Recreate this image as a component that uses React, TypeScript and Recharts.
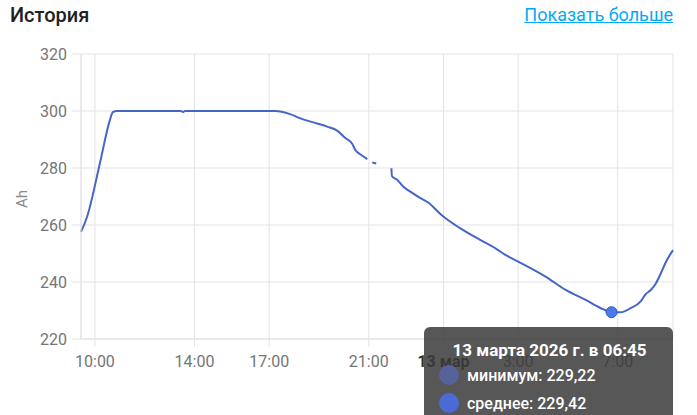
import { CartesianGrid, Line, LineChart, Tooltip, XAxis, YAxis } from "recharts";

const LINE = "#4466c8";
const GRID = "#e3e3e3";
const MUTED = "#757575";

// hours since 00:00 on 12 March
const TIMES = [
  9.44, 9.56, 9.68, 10.2, 10.6, 10.72, 10.88, 12.0, 13.45, 13.54, 13.62, 15.5, 17.0, 17.24, 17.84,
  18.25, 18.77, 19.33, 19.73, 20.06, 20.34, 20.46, 20.66, 20.94, 21.0, 21.14, 21.3, 21.6, 21.91,
  21.93, 22.15, 22.39, 22.67, 22.99, 23.4, 23.92, 24.68, 25.49, 26.09, 26.49, 27.02, 28.1, 28.91,
  29.71, 30.32, 30.75, 31.12, 31.52, 31.93, 32.12, 32.33, 32.53, 32.73, 32.94, 33.22,
];
const MEAN: (number | null)[] = [
  257.6, 260.0, 262.8, 281.7, 296.8, 299.6, 300.0, 300.0, 300.0, 299.6, 300.0, 300.0, 300.0, 300.0,
  298.9, 297.4, 296.0, 294.5, 293.1, 290.5, 288.4, 286.3, 284.8, 283.1, null, 281.9, 281.6, null,
  279.9, 277.2, 275.8, 273.4, 271.7, 269.9, 267.8, 263.5, 258.8, 254.7, 251.8, 249.5, 247.1, 241.9,
  237.2, 233.7, 230.8, 229.42, 229.4, 230.8, 233.3, 235.7, 237.2, 239.5, 243.0, 247.1, 251.2,
];
const X_TICKS = [10, 14, 17, 21, 24, 27, 31];
const Y_TICKS = [220, 240, 260, 280, 300, 320];
const ACTIVE_INDEX = 45;
const ACTIVE_MIN = 229.22;

const data = TIMES.map((t, i) => ({ t, mean: MEAN[i] }));

const fmtNum = (v: number) => v.toFixed(2).replace(".", ",");
const pad = (n: number) => String(n).padStart(2, "0");
const hm = (t: number) => {
  const h = Math.floor(t % 24);
  const m = Math.round((t - Math.floor(t)) * 60);
  return { h, m };
};
const tickLabel = (t: number) => {
  if (t === 24) return "13 мар";
  return `${hm(t).h}:00`;
};

function XTick({ x, y, payload }: any) {
  const isDate = payload.value === 24;
  return (
    <text
      x={x}
      y={y}
      dy="0.71em"
      textAnchor="middle"
      fontSize={16}
      fill={isDate ? "#333" : MUTED}
      fontWeight={isDate ? 700 : 400}
    >
      {tickLabel(payload.value)}
    </text>
  );
}

function StatsTooltip({ active, payload }: any) {
  if (!active || !payload?.length) return null;
  const p = payload[0].payload;
  const { h, m } = hm(p.t);
  const day = 12 + Math.floor(p.t / 24);
  const rows = [
    { name: "минимум", value: ACTIVE_MIN, color: "#56629a" },
    { name: "среднее", value: p.mean, color: "#4a6bd6" },
  ];
  return (
    <div
      style={{
        width: 249,
        height: 120,
        boxSizing: "border-box",
        background: "rgba(58,58,58,0.85)",
        borderRadius: 6,
        color: "#fff",
        fontFamily: "Roboto",
        padding: "13px 0 0 15px",
      }}
    >
      <div style={{ fontWeight: 700, fontSize: 17, lineHeight: "21px", textAlign: "center", paddingRight: 13 }}>
        {`${day} марта 2026 г. в ${pad(h)}:${pad(m)}`}
      </div>
      {rows.map((r) => (
        <div key={r.name} style={{ display: "flex", alignItems: "center", height: 28, marginTop: 0 }}>
          <span
            style={{ width: 20, height: 20, borderRadius: 10, background: r.color, marginLeft: 0, marginRight: 8 }}
          />
          <span style={{ fontWeight: 500, fontSize: 16 }}>{`${r.name}: ${fmtNum(r.value)}`}</span>
        </div>
      ))}
    </div>
  );
}

export default function App() {
  return (
    <div
      style={{
        position: "fixed",
        left: 0,
        top: 0,
        width: 697,
        height: 415,
        overflow: "hidden",
        background: "#fff",
        fontFamily: "Roboto",
      }}
    >
      <div
        style={{
          position: "absolute",
          left: 10,
          top: 5,
          fontSize: 20,
          fontWeight: 500,
          lineHeight: "20px",
          color: "#212121",
        }}
      >
        История
      </div>
      <div
        style={{
          position: "absolute",
          right: 24,
          top: 5,
          fontSize: 18,
          lineHeight: "20px",
          color: "#03a9f4",
          textDecoration: "underline",
        }}
      >
        Показать больше
      </div>
      <div
        style={{
          position: "absolute",
          left: 22,
          top: 199,
          fontSize: 15,
          color: "#8a8a8a",
          transform: "translate(-50%, -50%) rotate(-90deg)",
        }}
      >
        Ah
      </div>
      <LineChart width={697} height={415} data={data} margin={{ top: 54, right: 24, left: 0, bottom: 46 }}>
        <CartesianGrid stroke={GRID} />
        <XAxis
          dataKey="t"
          type="number"
          domain={[9.44, 33.22]}
          ticks={X_TICKS}
          tick={<XTick />}
          tickSize={8}
          tickMargin={9}
          tickLine={{ stroke: GRID }}
          axisLine={{ stroke: GRID }}
          height={30}
        />
        <YAxis
          domain={[220, 320]}
          ticks={Y_TICKS}
          width={81}
          tickSize={9}
          tickMargin={5}
          tickLine={{ stroke: GRID }}
          axisLine={{ stroke: GRID }}
          tick={{ fill: MUTED, fontSize: 16 }}
        />
        <Tooltip
          content={<StatsTooltip />}
          defaultIndex={ACTIVE_INDEX}
          active
          cursor={false}
          position={{ x: 424, y: 327 }}
          allowEscapeViewBox={{ x: true, y: true }}
          isAnimationActive={false}
        />
        <Line
          type="monotone"
          dataKey="mean"
          stroke={LINE}
          strokeWidth={2}
          dot={false}
          connectNulls={false}
          activeDot={{ r: 5.5, fill: "#4a7be8", stroke: "#3558c0", strokeWidth: 1 }}
          isAnimationActive={false}
        />
      </LineChart>
    </div>
  );
}
